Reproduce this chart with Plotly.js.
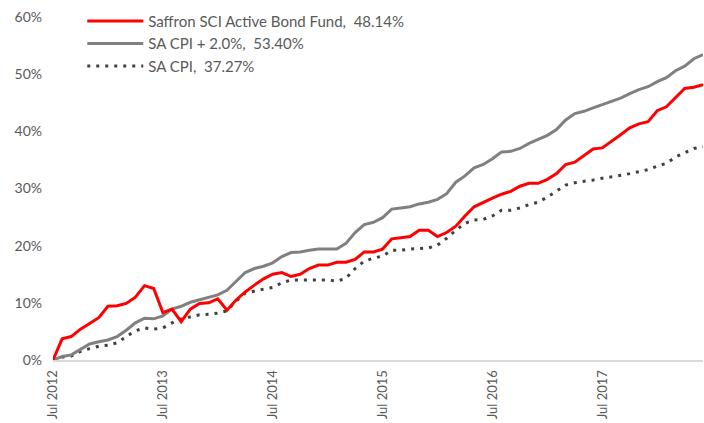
<!DOCTYPE html>
<html>
<head>
<meta charset="utf-8">
<script src="https://cdn.plot.ly/plotly-3.0.1.min.js"></script>
<style>html,body{margin:0;padding:0;background:#fff;}#chart{width:704px;height:423px;}</style>
</head>
<body>
<div id="chart"></div>
<script>
// Monthly categories Jul 2012 .. Jun 2018
const monthNames = ['Jan','Feb','Mar','Apr','May','Jun','Jul','Aug','Sep','Oct','Nov','Dec'];
const startYear = 2012, startMonth = 6, nMonths = 72;
const categories = [];
for (let i = 0; i < nMonths; i++) {
  const m = (startMonth + i) % 12;
  const y = startYear + Math.floor((startMonth + i) / 12);
  categories.push(monthNames[m] + ' ' + y);
}
const tickLabels = ['Jul 2012','Jul 2013','Jul 2014','Jul 2015','Jul 2016','Jul 2017'];

const seriesNames = ['Saffron SCI Active Bond Fund,\u00a0 48.14%', 'SA CPI + 2.0%,\u00a0 53.40%', 'SA CPI,\u00a0 37.27%'];

const fund = [0, 3.7, 4.1, 5.4, 6.4, 7.4, 9.4, 9.5, 9.9, 11.0, 13.0, 12.5, 8.3, 8.9, 6.7, 8.9, 9.9,
  10.0, 10.7, 8.7, 10.5, 11.9, 13.1, 14.2, 15.0, 15.3, 14.6, 15.0, 16.0, 16.6, 16.6, 17.1, 17.1, 17.6,
  18.9, 18.9, 19.4, 21.2, 21.4, 21.6, 22.7, 22.7, 21.6, 22.3, 23.4, 25.2, 26.8, 27.6,
  28.3, 29.0, 29.5, 30.4, 30.9, 30.9, 31.6, 32.6, 34.2, 34.6, 35.7, 36.9,
  37.1, 38.2, 39.4, 40.6, 41.3, 41.7, 43.6, 44.3, 45.9, 47.5, 47.7, 48.14];

const cpiPlus2 = [0, 0.6, 0.9, 1.9, 2.8, 3.2, 3.5, 4.1, 5.2, 6.5, 7.3, 7.2, 7.7, 8.9, 9.4, 10.1, 10.5,
  10.9, 11.4, 12.2, 13.7, 15.3, 16.0, 16.4, 17.0, 18.1, 18.8, 18.9, 19.2, 19.4, 19.4, 19.4, 20.4, 22.3,
  23.7, 24.1, 24.9, 26.4, 26.6, 26.8, 27.3, 27.6, 28.1, 29.1, 31.1, 32.2, 33.6, 34.2,
  35.2, 36.4, 36.5, 37.0, 37.9, 38.6, 39.3, 40.3, 42.0, 43.1, 43.5, 44.1,
  44.7, 45.3, 45.8, 46.6, 47.3, 47.8, 48.7, 49.4, 50.6, 51.4, 52.7, 53.40];

const cpi = [0, 0.5, 0.7, 1.5, 2.0, 2.4, 2.6, 3.0, 4.1, 5.1, 5.6, 5.4, 5.6, 6.5, 7.2, 7.6, 7.9,
  8.0, 8.2, 8.6, 10.3, 11.7, 12.1, 12.4, 12.7, 13.5, 14.0, 14.0, 14.1, 14.1, 14.0, 13.8, 14.3, 16.0,
  17.3, 17.8, 18.2, 19.2, 19.2, 19.4, 19.5, 19.6, 20.1, 21.3, 22.7, 23.9, 24.5, 24.6,
  25.2, 26.2, 26.2, 26.6, 27.2, 27.6, 28.5, 29.6, 30.6, 31.0, 31.2, 31.5,
  31.8, 32.0, 32.3, 32.6, 33.0, 33.3, 33.9, 34.4, 35.5, 36.2, 37.0, 37.27];

const yTicks = [0, 10, 20, 30, 40, 50, 60];

const font = 'Lato, "Open Sans", sans-serif';
const textColor = '#595959';

const traces = [
  {x: categories, y: cpi, name: seriesNames[2], type: 'scatter', mode: 'lines',
   line: {color: '#404040', width: 3, dash: '3px,6px'}},
  {x: categories, y: cpiPlus2, name: seriesNames[1], type: 'scatter', mode: 'lines',
   line: {color: '#808080', width: 3}},
  {x: categories, y: fund, name: seriesNames[0], type: 'scatter', mode: 'lines',
   line: {color: '#ff0000', width: 3}}
];

const layout = {
  width: 704, height: 423,
  margin: {l: 53, r: 1, t: 17, b: 63, pad: 0},
  paper_bgcolor: '#ffffff', plot_bgcolor: '#ffffff',
  font: {family: font, size: 14, color: textColor},
  showlegend: true,
  legend: {x: 0.045, y: 1.036, xanchor: 'left', yanchor: 'top', traceorder: 'reversed',
    bgcolor: 'rgba(0,0,0,0)', font: {family: font, size: 15, color: textColor}, itemwidth: 56},
  xaxis: {type: 'category', range: [0, nMonths - 1], tickvals: tickLabels, ticktext: tickLabels,
    tickangle: -90, showgrid: false, zeroline: false, showline: true, linecolor: '#d9d9d9', linewidth: 2,
    ticks: '', automargin: false, tickfont: {family: font, size: 13, color: textColor}, ticklabelstandoff: 3},
  yaxis: {range: [0, 60], tickvals: yTicks, ticktext: yTicks.map(v => v + '%'), showgrid: false,
    zeroline: false, showline: false, ticks: '', automargin: false,
    tickfont: {family: font, size: 14, color: textColor}, ticklabelstandoff: 10}
};

Plotly.newPlot('chart', traces, layout, {staticPlot: true, displayModeBar: false});
</script>
</body>
</html>
